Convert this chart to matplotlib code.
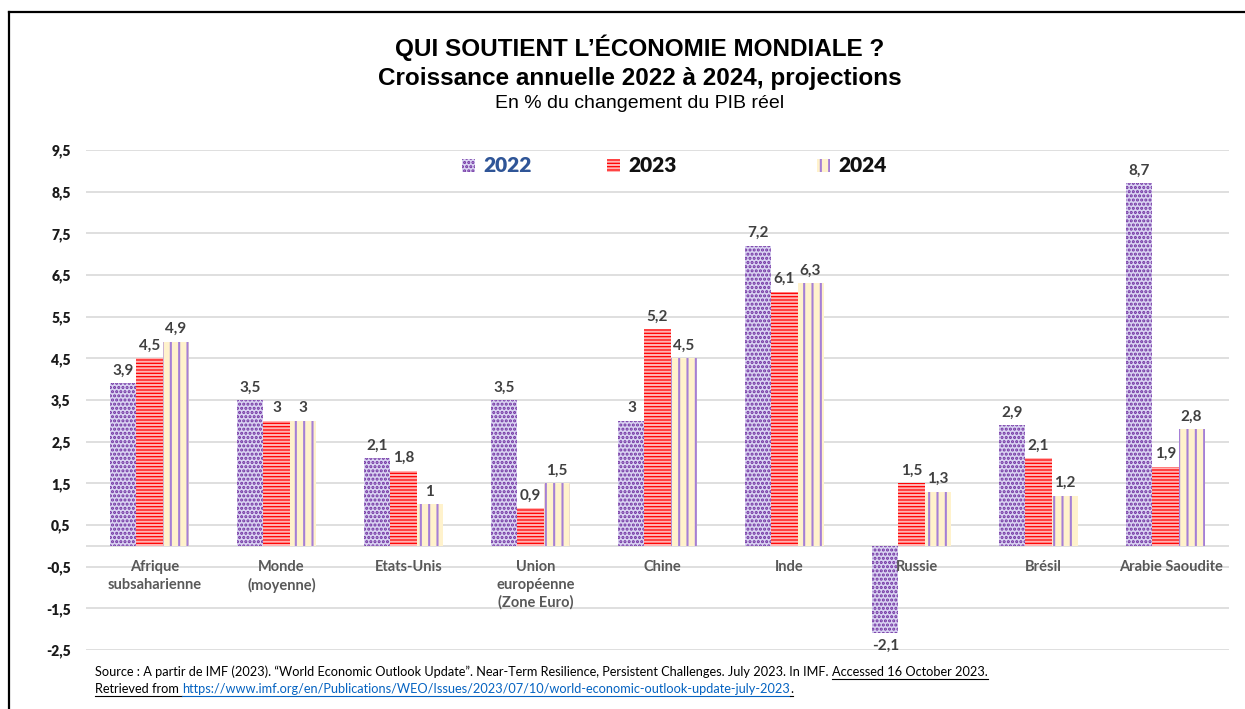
import matplotlib
matplotlib.use("Agg")
import numpy as np
from matplotlib import pyplot as plt
from matplotlib.patches import Patch
from matplotlib.lines import Line2D

# data
categories = ["Afrique\nsubsaharienne", "Monde\n(moyenne)", "Etats-Unis",
              "Union\neuropéenne\n(Zone Euro)", "Chine", "Inde", "Russie",
              "Brésil", "Arabie Saoudite"]
years = ["2022", "2023", "2024"]
g2022 = [3.9, 3.5, 2.1, 3.5, 3.0, 7.2, -2.1, 2.9, 8.7]
g2023 = [4.5, 3.0, 1.8, 0.9, 5.2, 6.1, 1.5, 2.1, 1.9]
g2024 = [4.9, 3.0, 1.0, 1.5, 4.5, 6.3, 1.3, 1.2, 2.8]
yticks = [-2.5, -1.5, -0.5, 0.5, 1.5, 2.5, 3.5, 4.5, 5.5, 6.5, 7.5, 8.5, 9.5]

LABEL_FONT = ["Lato", "DejaVu Sans"]
TITLE_FONT = ["Liberation Sans", "DejaVu Sans"]
plt.rcParams["hatch.linewidth"] = 1.5

styles = [
    dict(facecolor="#d9d3f2", edgecolor="#7030a0", hatch="...."),
    dict(facecolor="#ff0000", edgecolor="#ffb3b3", hatch="-----"),
    dict(facecolor="#fff2cc", edgecolor="#a57fd6", hatch="||"),
]
legend_colors = ["#2f5597", "#111111", "#111111"]

fig = plt.figure(figsize=(12.45, 7.09), dpi=100)
ax = fig.add_axes([86 / 1245, 1 - 650 / 709, (1229 - 86) / 1245, 500 / 709])

x = np.arange(len(categories))
w = 0.205
series = [g2022, g2023, g2024]
for k, vals in enumerate(series):
    ax.bar(x + (k - 1) * w, vals, w, linewidth=0, zorder=2, **styles[k])
    for xi, v in zip(x + (k - 1) * w, vals):
        txt = ("%g" % v).replace(".", ",")
        off, va = (4, "bottom") if v >= 0 else (-4, "top")
        ax.annotate(txt, (xi, v), xytext=(0, off), textcoords="offset points",
                    ha="center", va=va, fontsize=11, fontweight="bold",
                    color="#404040", family=LABEL_FONT)

ax.set_ylim(-2.5, 9.5)
ax.set_xlim(-0.5, 8.5)
ax.set_yticks(yticks)
ax.set_yticklabels([("%g" % t).replace(".", ",") for t in yticks],
                   fontsize=10, fontweight="heavy", family=LABEL_FONT, color="#1a1a1a")
ax.tick_params(axis="y", length=0, pad=11)
ax.set_xticks([])
ax.grid(axis="y", color="#d9d9d9", linewidth=1.2, zorder=0)
ax.axhline(0, color="#d9d9d9", linewidth=1.2, zorder=1)
for s in ax.spines.values():
    s.set_visible(False)

for xi, c in zip(x, categories):
    ax.annotate(c, (xi + 0.04, 0), xytext=(0, -10), textcoords="offset points",
                ha="center", va="top", fontsize=10.5, fontweight="bold",
                color="#595959", family=LABEL_FONT, linespacing=1.35, zorder=3)

# legend, one entry at a time to keep the original spacing
leg_x = [452, 597, 807]
for k in range(3):
    h = Patch(**styles[k], linewidth=0)
    lg = fig.legend([h], [years[k]], loc="center left",
                    bbox_to_anchor=(leg_x[k] / 1245, 1 - 166 / 709),
                    frameon=False, handlelength=0.6, handleheight=0.6,
                    handletextpad=0.4, borderpad=0,
                    prop=dict(family=LABEL_FONT, weight="heavy", size=15))
    lg.get_texts()[0].set_color(legend_colors[k])

# titles
fig.text(0.514, 1 - 48 / 709, "QUI SOUTIENT L’ÉCONOMIE MONDIALE ?", ha="center", va="center",
         fontsize=17.5, fontweight="bold", family=TITLE_FONT)
fig.text(0.514, 1 - 78 / 709, "Croissance annuelle 2022 à 2024, projections", ha="center",
         va="center", fontsize=17.5, fontweight="bold", family=TITLE_FONT)
fig.text(0.514, 1 - 104 / 709, "En % du changement du PIB réel", ha="center", va="center",
         fontsize=14, family=TITLE_FONT)

# source with underlined bits
src_font = dict(fontsize=9.2, family=LABEL_FONT, va="baseline")
y1 = 1 - 676 / 709
y2 = 1 - 693 / 709
t1 = fig.text(95 / 1245, y1, "Source : A partir de IMF (2023). “World Economic Outlook Update”. "
              "Near-Term Resilience, Persistent Challenges. July 2023. In IMF. ", **src_font)
fig.canvas.draw()
r = fig.canvas.get_renderer()
bb = t1.get_window_extent(r)
t2 = fig.text(bb.x1 / 1245, y1, "Accessed 16 October 2023.", **src_font)
t3 = fig.text(95 / 1245, y2, "Retrieved from ", **src_font)
fig.canvas.draw()
bb3 = t3.get_window_extent(r)
t4 = fig.text(bb3.x1 / 1245, y2,
              "https://www.imf.org/en/Publications/WEO/Issues/2023/07/10/world-economic-outlook-update-july-2023",
              color="#0563c1", **src_font)
fig.canvas.draw()
bb4 = t4.get_window_extent(r)
t5 = fig.text(bb4.x1 / 1245, y2, ".", **src_font)
fig.canvas.draw()
for t, col in [(t2, "black"), (t3, "black"), (t4, "#0563c1"), (t5, "black")]:
    b = t.get_window_extent(r)
    yy = t.get_position()[1] - 2.5 / 709
    fig.add_artist(Line2D([b.x0 / 1245, b.x1 / 1245], [yy, yy], color=col, linewidth=0.8))

# outer frame (top and left only)
fig.add_artist(Line2D([9 / 1245, 1], [1 - 12 / 709, 1 - 12 / 709], color="black", linewidth=1.6))
fig.add_artist(Line2D([9 / 1245, 9 / 1245], [0, 1 - 12 / 709], color="black", linewidth=1.6))

fig.savefig("out.png", dpi=100)
